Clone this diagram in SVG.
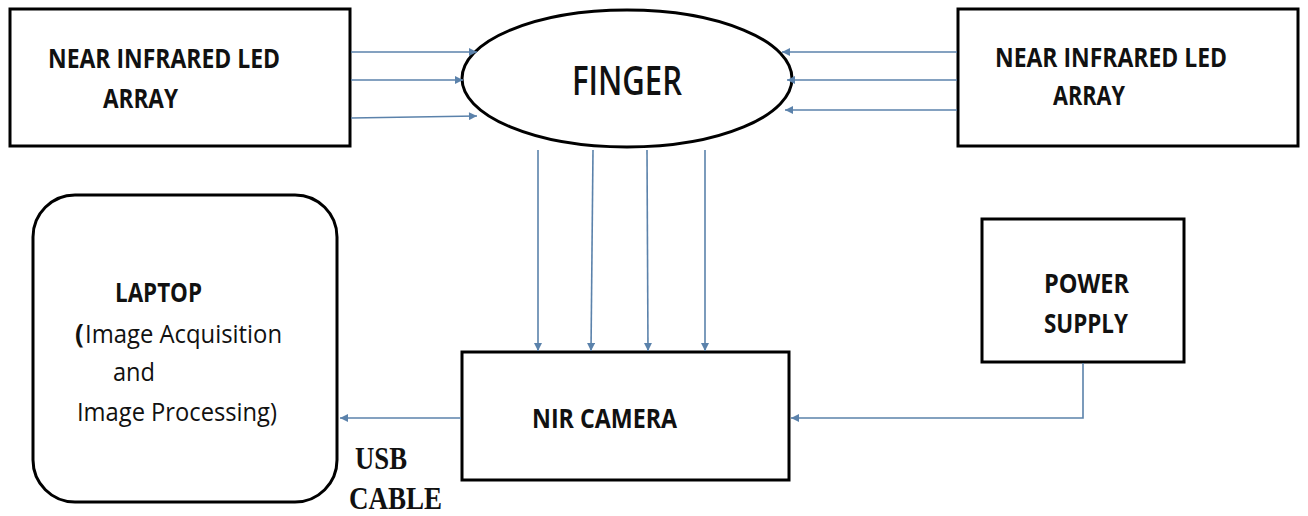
<svg xmlns="http://www.w3.org/2000/svg" width="1308" height="516" viewBox="0 0 1308 516">
<defs>
<style>
.box{fill:#fff;stroke:#000;stroke-width:3}
.lbl{font-family:"Open Sans","Liberation Sans",sans-serif;font-weight:700;font-size:26px;fill:#111}
.reg{font-family:"Open Sans","Liberation Sans",sans-serif;font-weight:400;font-size:26px;fill:#111}
.big{font-family:"Open Sans","Liberation Sans",sans-serif;font-weight:600;font-size:40px;fill:#111}
.ser{font-family:"Liberation Serif","Times New Roman",serif;font-weight:bold;font-size:32px;fill:#111}
.con{fill:none;stroke:#5b82ab;stroke-width:1.6}
</style>
<marker id="ah" viewBox="0 0 10 10" refX="10" refY="5" markerWidth="9" markerHeight="8" markerUnits="userSpaceOnUse" orient="auto">
<path d="M0,0 L10,5 L0,10 z" fill="#5b82ab"/>
</marker>
</defs>
<rect width="1308" height="516" fill="#fff"/>
<g id="led-left">
<rect class="box" x="10" y="9" width="340" height="137"/>
<text class="lbl" x="48" y="68" textLength="232" lengthAdjust="spacingAndGlyphs">NEAR INFRARED LED</text>
<text class="lbl" x="103" y="108" textLength="75" lengthAdjust="spacingAndGlyphs">ARRAY</text>
</g>
<g id="led-right">
<rect class="box" x="958" y="9" width="340" height="137"/>
<text class="lbl" x="995" y="67" textLength="232" lengthAdjust="spacingAndGlyphs">NEAR INFRARED LED</text>
<text class="lbl" x="1053" y="105" textLength="72" lengthAdjust="spacingAndGlyphs">ARRAY</text>
</g>
<g id="finger">
<ellipse class="box" cx="627" cy="78.5" rx="165" ry="68.5"/>
<text class="big" x="572" y="95" textLength="110" lengthAdjust="spacingAndGlyphs">FINGER</text>
</g>
<g id="laptop">
<rect class="box" x="33" y="195" width="304" height="307" rx="42" ry="42"/>
<text class="lbl" x="115" y="302" textLength="87" lengthAdjust="spacingAndGlyphs">LAPTOP</text>
<text class="lbl" x="75" y="343">(</text>
<text class="reg" x="85" y="343" textLength="197" lengthAdjust="spacingAndGlyphs">Image Acquisition</text>
<text class="reg" x="113" y="381" textLength="42" lengthAdjust="spacingAndGlyphs">and</text>
<text class="reg" x="77" y="421" textLength="200" lengthAdjust="spacingAndGlyphs" style="font-weight:400">Image Processing)</text>
</g>
<g id="camera">
<rect class="box" x="462" y="352" width="327" height="128"/>
<text class="lbl" x="532" y="428" textLength="145" lengthAdjust="spacingAndGlyphs">NIR CAMERA</text>
</g>
<g id="power">
<rect class="box" x="982" y="219" width="202" height="143"/>
<text class="lbl" x="1044" y="293" textLength="85" lengthAdjust="spacingAndGlyphs">POWER</text>
<text class="lbl" x="1044" y="333" textLength="84" lengthAdjust="spacingAndGlyphs">SUPPLY</text>
</g>
<g id="usb-label">
<text class="ser" x="355" y="469" textLength="52" lengthAdjust="spacingAndGlyphs">USB</text>
<text class="ser" x="349" y="509" textLength="93" lengthAdjust="spacingAndGlyphs">CABLE</text>
</g>
<g id="connectors">
<line class="con" x1="351" y1="52" x2="477" y2="52" marker-end="url(#ah)"/>
<line class="con" x1="351" y1="80" x2="463" y2="80" marker-end="url(#ah)"/>
<line class="con" x1="351" y1="118" x2="477" y2="116" marker-end="url(#ah)"/>
<line class="con" x1="957" y1="52" x2="782" y2="52" marker-end="url(#ah)"/>
<line class="con" x1="957" y1="80" x2="787" y2="80" marker-end="url(#ah)"/>
<line class="con" x1="957" y1="110" x2="785" y2="110" marker-end="url(#ah)"/>
<line class="con" x1="538" y1="150" x2="538" y2="351" marker-end="url(#ah)"/>
<line class="con" x1="593" y1="150" x2="591" y2="351" marker-end="url(#ah)"/>
<line class="con" x1="647" y1="150" x2="648" y2="351" marker-end="url(#ah)"/>
<line class="con" x1="705" y1="150" x2="705" y2="351" marker-end="url(#ah)"/>
<line class="con" x1="461" y1="418" x2="340" y2="418" marker-end="url(#ah)"/>
<polyline class="con" points="1083,363 1083,418 791,418" marker-end="url(#ah)"/>
</g>
</svg>
